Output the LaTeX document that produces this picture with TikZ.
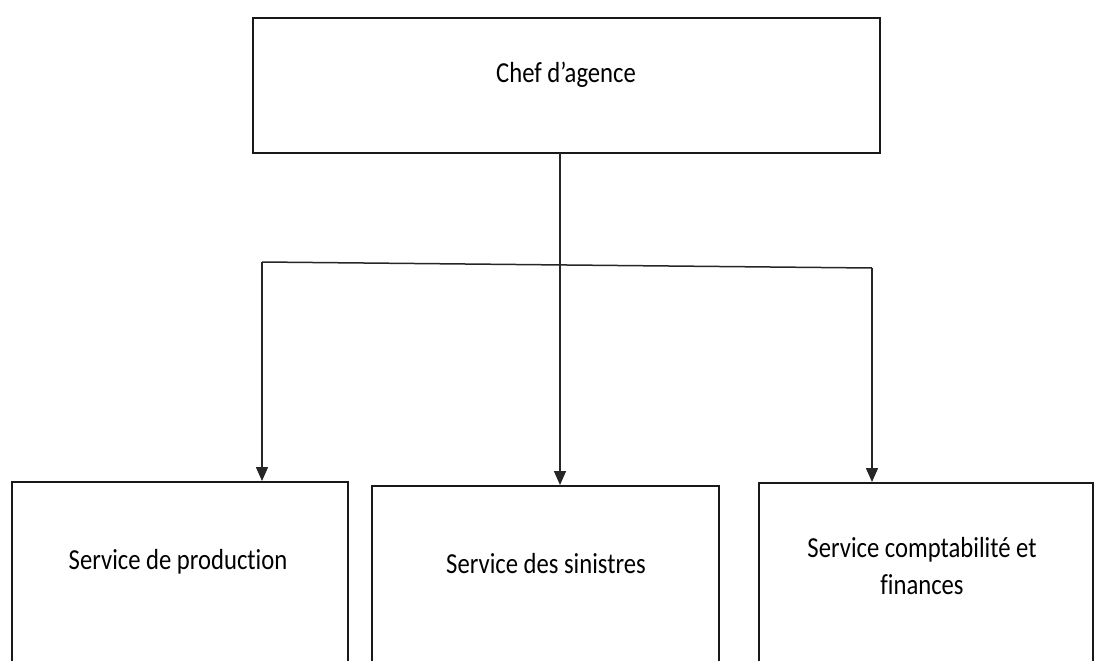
\documentclass[tikz,border=0pt]{standalone}
\usepackage{fontspec}
\setmainfont{Carlito}[FakeStretch=0.85,Ligatures=NoCommon]
\usetikzlibrary{arrows.meta}
\begin{document}
\begin{tikzpicture}[x=1pt,y=-1pt,
  box/.style={draw=black!90,line width=2pt,rectangle,inner sep=0pt},
  lbl/.style={font=\fontsize{29}{37}\selectfont,align=center,inner sep=0pt,text=black},
  conn/.style={line width=1.5pt,draw=black!85},
  arr/.style={conn,-{Triangle[width=12pt,length=14pt]}}]
\useasboundingbox (0,0) rectangle (1096,661);
\clip (0,0) rectangle (1096,661);
% boxes
\node[box,minimum width=627pt,minimum height=135pt] (top) at (566.5,85.5) {};
\node[box,minimum width=336pt,minimum height=220pt] (lbox) at (180,592) {};
\node[box,minimum width=347pt,minimum height=220pt] (mbox) at (545.5,596) {};
\node[box,minimum width=334pt,minimum height=220pt] (rbox) at (926,593) {};
% labels
\node[lbl] (ttop) at (566,75) {Chef d’agence};
\node[lbl] (tl) at (178,562) {Service de production};
\node[lbl] (tm) at (546,564) {Service des sinistres};
\node[lbl] (tr) at (922,566) {Service comptabilité et\\finances};
% connectors
\coordinate (t) at (560,153);
\coordinate (jL) at (262,262);
\coordinate (jR) at (872,268);
\draw[conn] (jL) -- (jR);
\draw[arr] (t) -- (t |- mbox.north);
\draw[arr] (jL) -- (jL |- lbox.north);
\draw[arr] (jR) -- (jR |- rbox.north);
\end{tikzpicture}
\end{document}
